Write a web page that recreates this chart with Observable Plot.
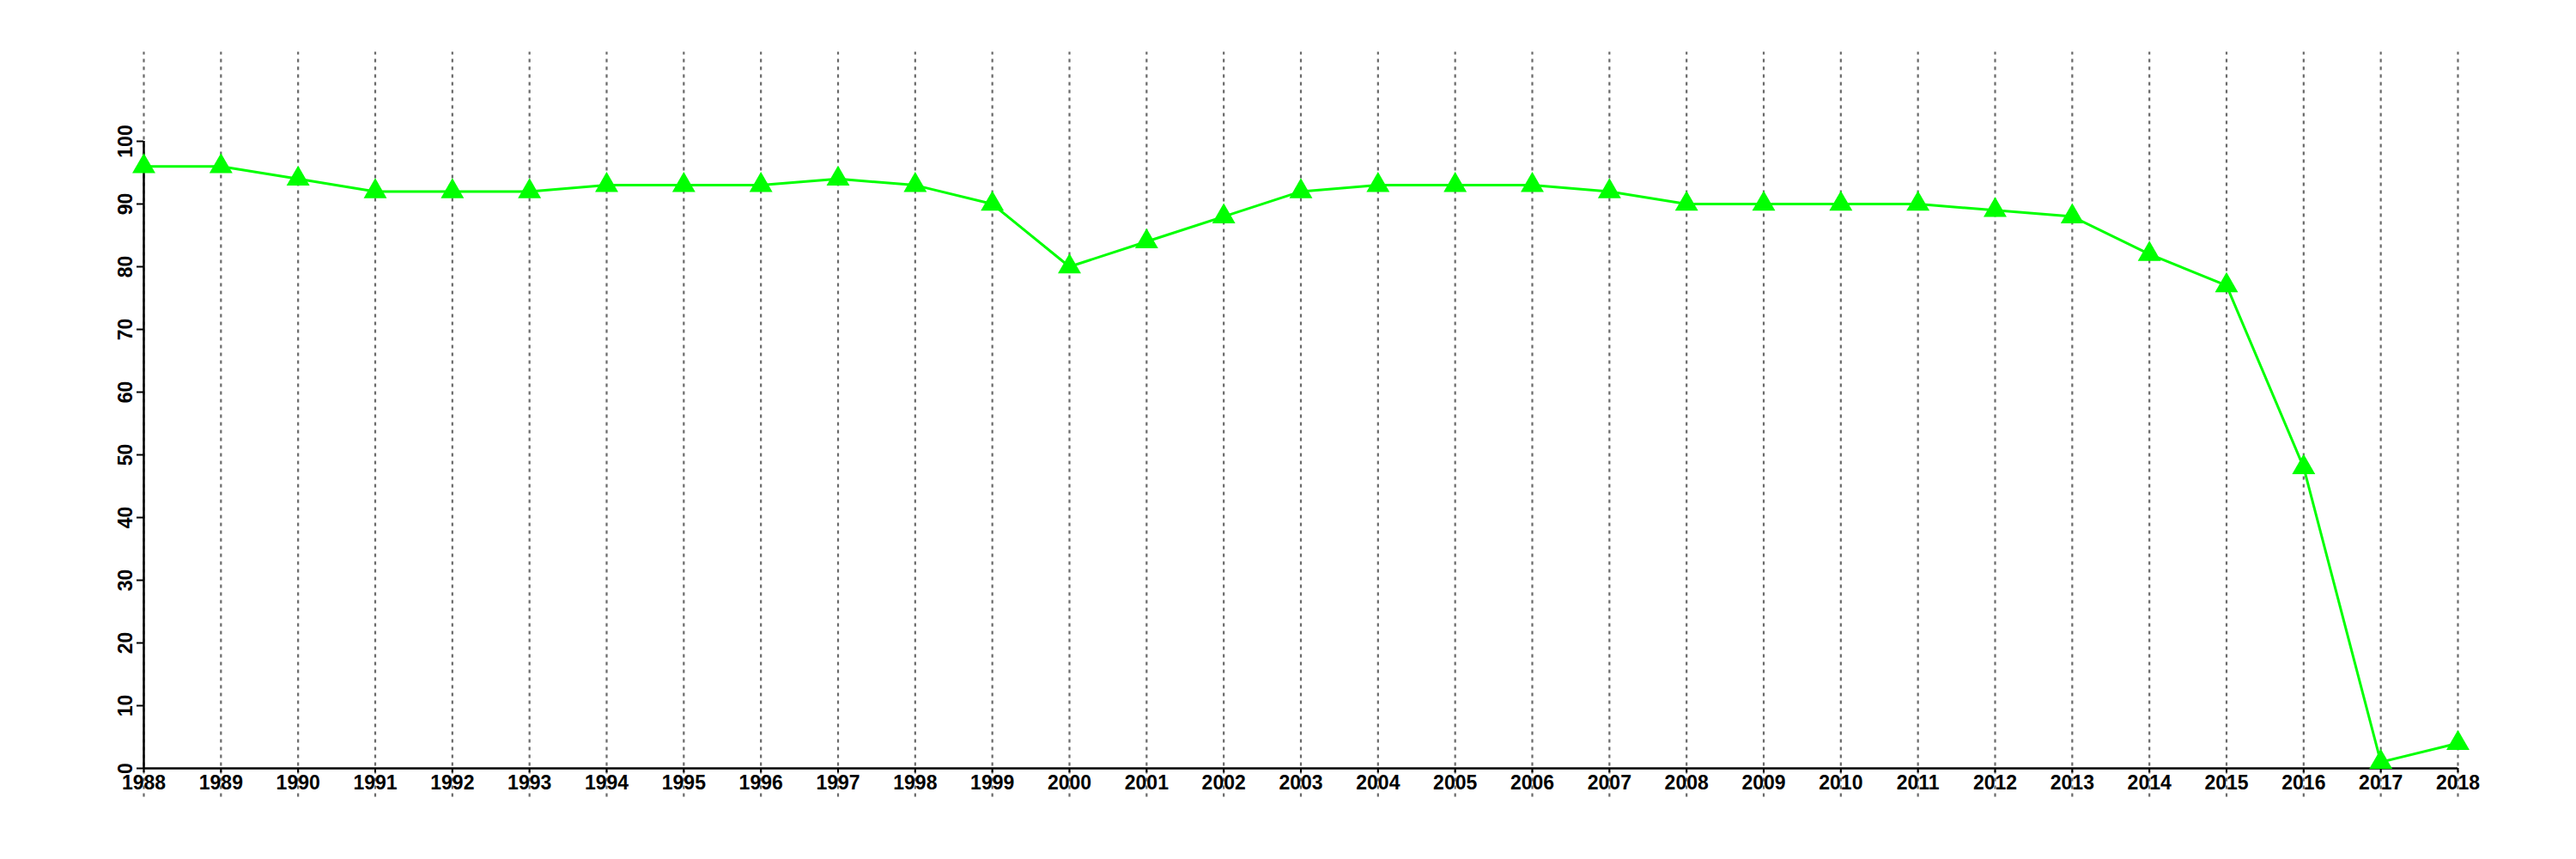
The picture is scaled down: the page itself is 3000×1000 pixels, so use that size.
<!DOCTYPE html>
<html>
<head>
<meta charset="utf-8">
<script src="https://cdn.jsdelivr.net/npm/d3@7"></script>
<script src="https://cdn.jsdelivr.net/npm/@observablehq/plot@0.6"></script>
<style>
  html, body { margin: 0; padding: 0; background: #ffffff; }
  #chart svg { display: block; }
</style>
</head>
<body>
<div id="chart"></div>
<script>
const years = [1988, 1989, 1990, 1991, 1992, 1993, 1994, 1995, 1996, 1997, 1998, 1999, 2000,
  2001, 2002, 2003, 2004, 2005, 2006, 2007, 2008, 2009, 2010, 2011, 2012, 2013, 2014, 2015,
  2016, 2017, 2018];
const values = [96, 96, 94, 92, 92, 92, 93, 93, 93, 94, 93, 90, 80,
  84, 88, 92, 93, 93, 93, 92, 90, 90, 90, 90, 89, 88, 82, 77,
  48, 1, 4];
const yTicks = [0, 10, 20, 30, 40, 50, 60, 70, 80, 90, 100];

const data = years.map((year, i) => ({year, value: values[i]}));

const green = "#00ff00";

const chart = Plot.plot({
  width: 3000,
  height: 1000,
  marginLeft: 167,
  marginRight: 138,
  marginTop: 164,
  marginBottom: 106,
  style: {fontFamily: "'Liberation Sans', Arial, sans-serif", fontSize: "23px", fontWeight: "bold", color: "#000", background: "#fff"},
  x: {domain: [1988, 2018]},
  y: {domain: [0, 100]},
  marks: [
    Plot.gridX({ticks: years, y1: -4.6, y2: 114.2, stroke: "#6a6a6a", strokeOpacity: 1, strokeWidth: 2.2, strokeDasharray: "4,5"}),
    Plot.axisX({ticks: years, tickFormat: "d", tickSize: 5, tickPadding: 3, stroke: "#000", strokeWidth: 2, fill: "#000", label: null}),
    Plot.axisY({ticks: yTicks, tickSize: 8, tickPadding: 6, tickRotate: -90, stroke: "#000", strokeWidth: 2, fill: "#000", label: null}),
    Plot.ruleY([0], {x1: years[0], x2: years[years.length - 1], stroke: "#000", strokeWidth: 2.5}),
    Plot.ruleX([years[0]], {y1: yTicks[0], y2: yTicks[yTicks.length - 1], stroke: "#000", strokeWidth: 2.5}),
    Plot.line(data, {x: "year", y: "value", stroke: green, strokeWidth: 3}),
    Plot.dot(data, {x: "year", y: "value", symbol: "triangle", r: 10, fill: green, stroke: "none"})
  ]
});

document.getElementById("chart").appendChild(chart);
</script>
</body>
</html>
